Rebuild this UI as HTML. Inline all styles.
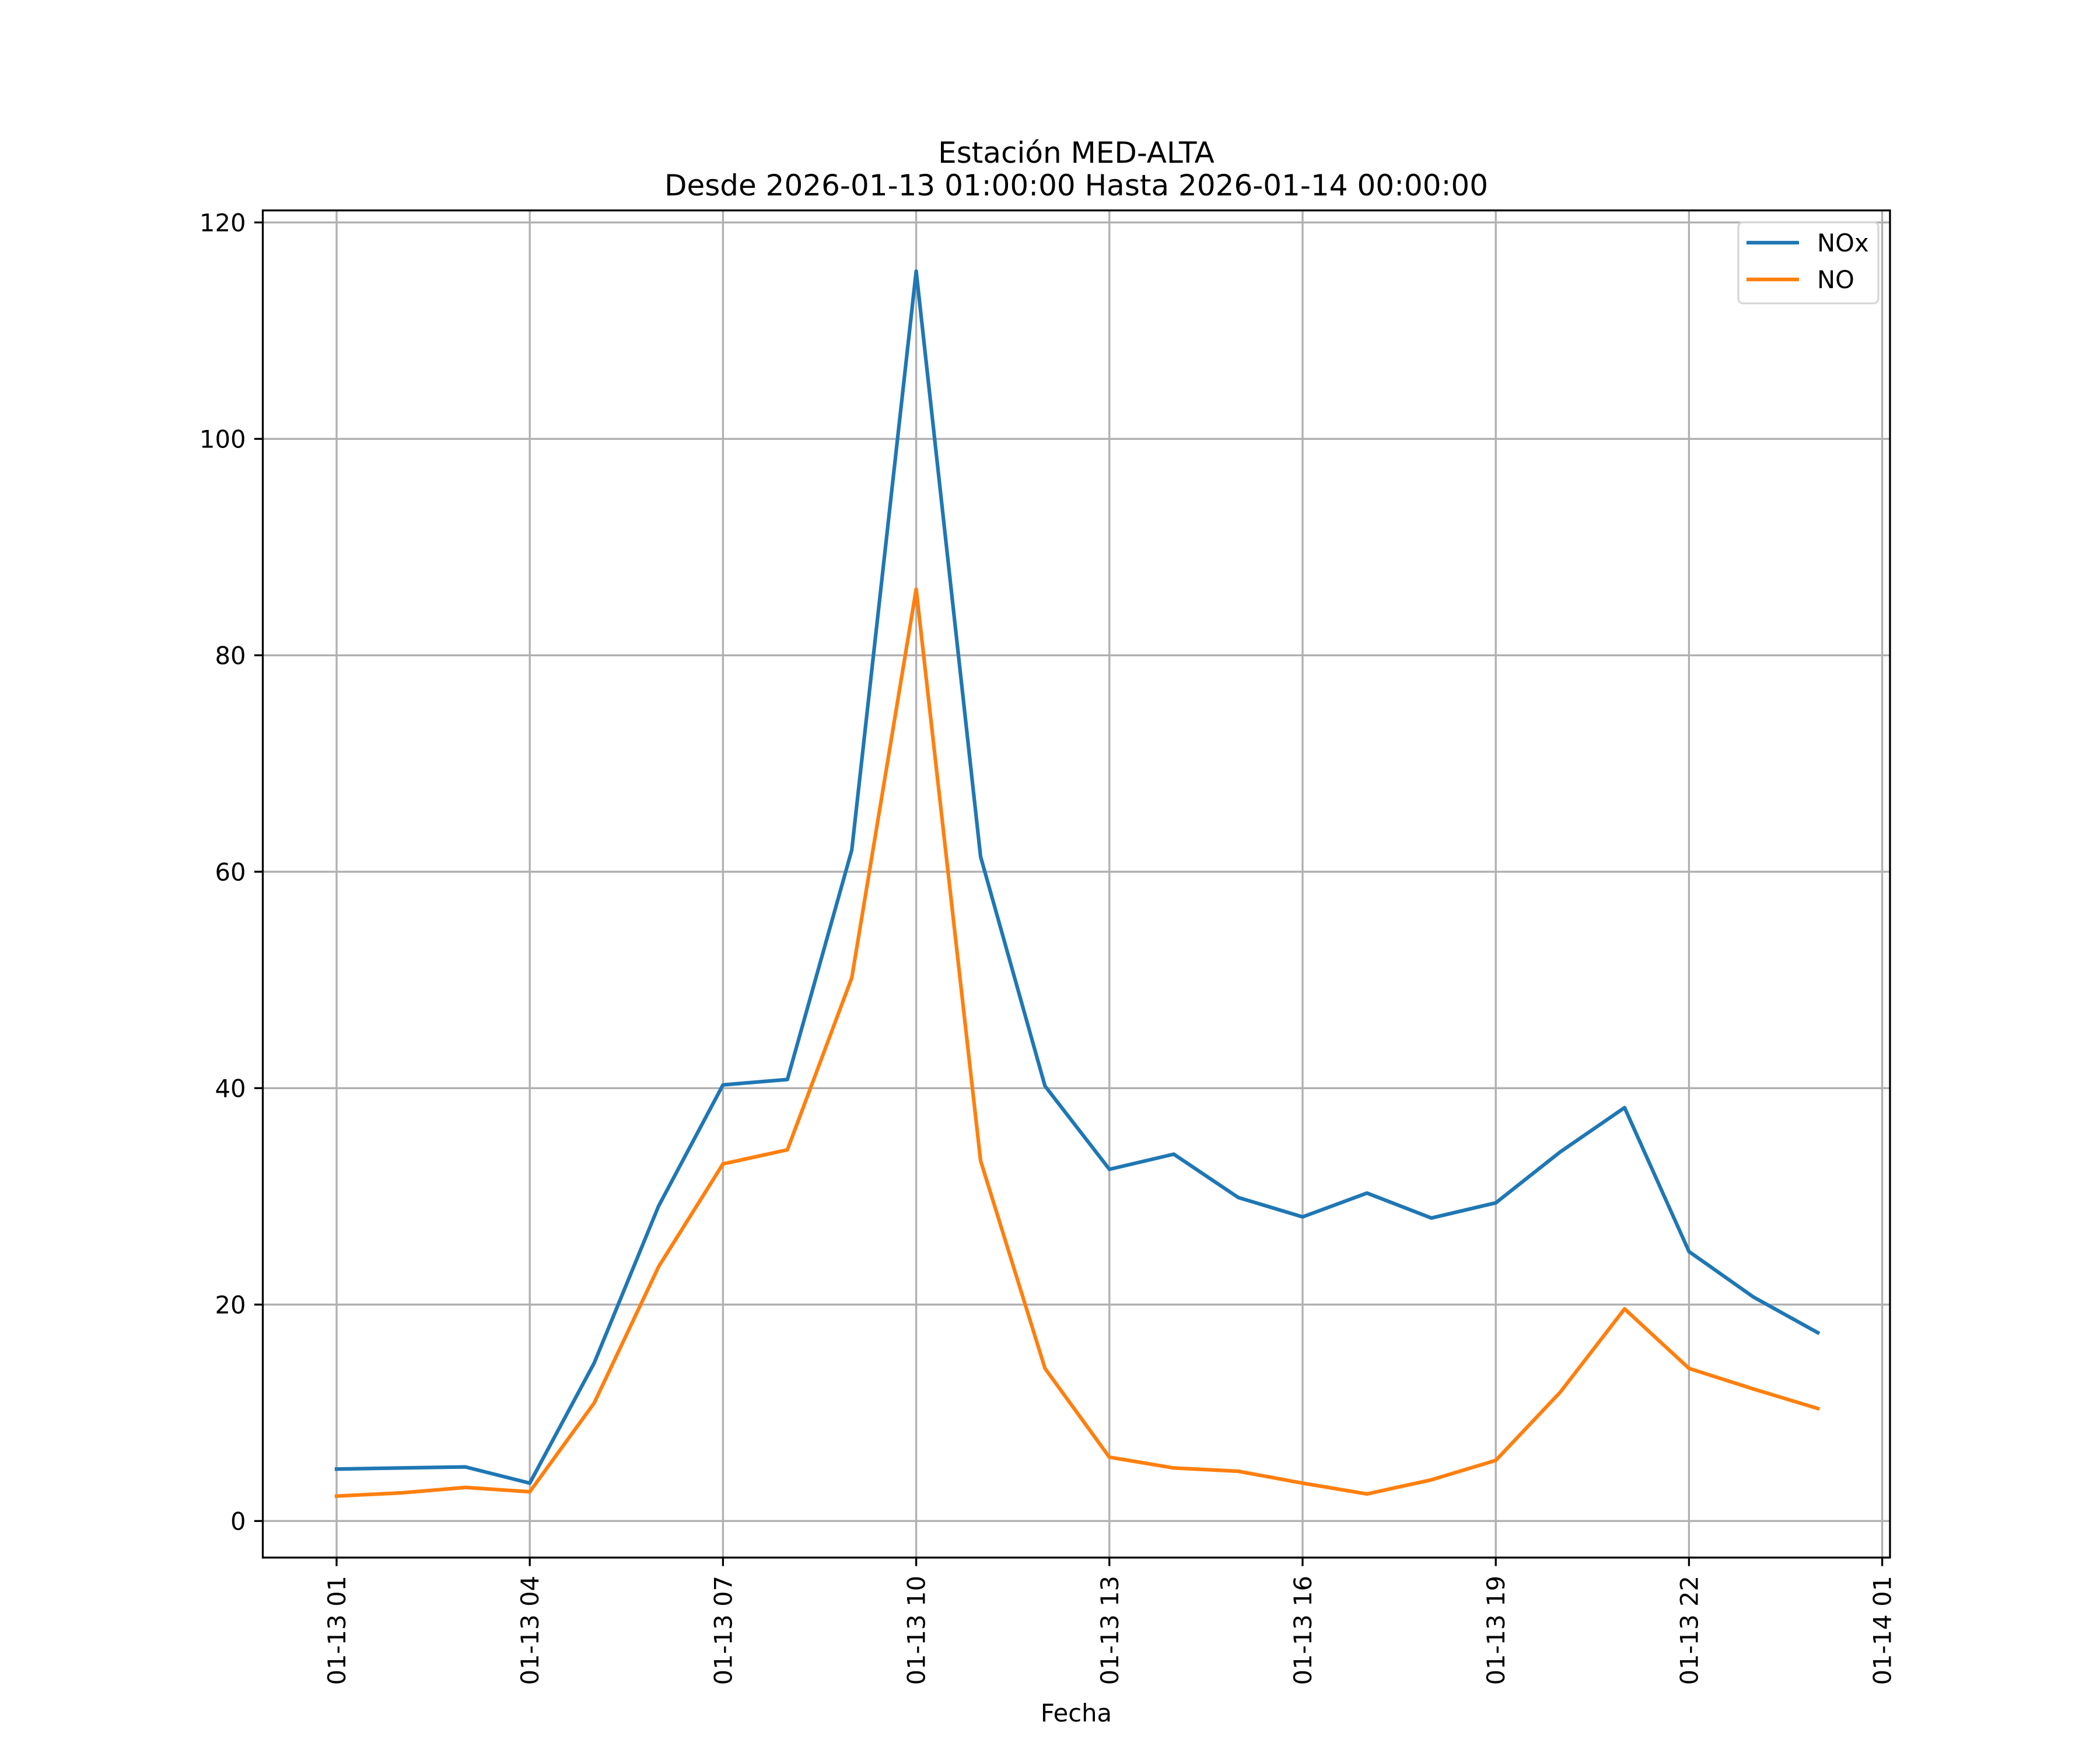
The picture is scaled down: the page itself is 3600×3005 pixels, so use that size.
<!DOCTYPE html>
<html><head><meta charset="utf-8"><style>
body{margin:0;background:#fff}
svg text{font-family:"DejaVu Sans","Liberation Sans",sans-serif;fill:#000}
</style></head><body>
<svg id="chart" width="3600" height="3000" viewBox="0 0 3600 3000" xmlns="http://www.w3.org/2000/svg">
<rect width="3600" height="3000" fill="#fff"/>
<text x="1845" y="279" font-size="50" text-anchor="middle">Estación MED-ALTA</text>
<text x="1845" y="335" font-size="50" text-anchor="middle">Desde 2026-01-13 01:00:00 Hasta 2026-01-14 00:00:00</text>
<g id="grid"></g>
<g id="series"></g>
<rect x="450.5" y="360.7" width="2789.5" height="2309.3" fill="none" stroke="#000" stroke-width="3.3"/>
<g id="axes"></g>
<text x="1845" y="2951" font-size="41.7" text-anchor="middle">Fecha</text>
<g>
<rect x="2980" y="381" width="240" height="139" rx="8" fill="#fff" fill-opacity="0.8" stroke="#d6d6d6" stroke-width="3.3"/>
<line x1="2994" y1="416" x2="3084" y2="416" stroke="#1f77b4" stroke-width="6.25"/>
<text x="3115" y="431" font-size="41.7">NOx</text>
<line x1="2994" y1="479" x2="3084" y2="479" stroke="#ff7f0e" stroke-width="6.25"/>
<text x="3115" y="494" font-size="41.7">NO</text>
</g>
</svg>
<script>
const hours = [1,2,3,4,5,6,7,8,9,10,11,12,13,14,15,16,17,18,19,20,21,22,23,24];
const noxValues = [4.8,4.9,5.0,3.5,14.6,29.1,40.3,40.8,62.0,115.5,61.4,40.2,32.5,33.9,29.9,28.1,30.3,28.0,29.4,34.1,38.2,24.9,20.7,17.4];
const noValues = [2.3,2.6,3.1,2.7,10.9,23.5,33.0,34.3,50.2,86.1,33.3,14.1,5.9,4.9,4.6,3.5,2.5,3.8,5.6,11.9,19.6,14.1,12.2,10.4];
const yTicks = [0,20,40,60,80,100,120];
const xTickHours = [1,4,7,10,13,16,19,22,25];
const xTickLabels = ["01-13 01","01-13 04","01-13 07","01-13 10","01-13 13","01-13 16","01-13 19","01-13 22","01-14 01"];

const NS="http://www.w3.org/2000/svg";
const L=450.5,R=3240,T=360.7,B=2670;
function xs(h){return 577+(h-1)*110.4;}
function ys(v){return 2607.3-v*18.55;}
function mk(tag,attrs,parent){const e=document.createElementNS(NS,tag);for(const k in attrs)e.setAttribute(k,attrs[k]);parent.appendChild(e);return e;}
const grid=document.getElementById('grid'),axes=document.getElementById('axes'),series=document.getElementById('series');
yTicks.forEach(v=>{
  const y=ys(v);
  const g=mk('line',{x1:L,x2:R,y1:y,y2:y,stroke:'#b0b0b0','stroke-width':3.3},grid);
  
  
  const t=mk('line',{x1:L-14.6,x2:L,y1:y,y2:y,stroke:'#000','stroke-width':3.3},axes);
  
  
  const tx=mk('text',{x:L-29,y:y+15,'font-size':41.7,'text-anchor':'end'},axes);
  tx.textContent=v;
  
  
});
xTickHours.forEach((h,i)=>{
  const x=xs(h);
  const g=mk('line',{x1:x,x2:x,y1:T,y2:B,stroke:'#b0b0b0','stroke-width':3.3},grid);
  
  
  const t=mk('line',{x1:x,x2:x,y1:B,y2:B+14.6,stroke:'#000','stroke-width':3.3},axes);
  
  
  const tx=mk('text',{x:0,y:0,'font-size':41.7,'text-anchor':'end',transform:`translate(${x+15},2701) rotate(-90)`},axes);
  tx.textContent=xTickLabels[i];
  
  
});
function line(vals,color,name){
  const pts=vals.map((v,i)=>xs(hours[i]).toFixed(1)+','+ys(v).toFixed(1)).join(' ');
  const p=mk('polyline',{points:pts,fill:'none',stroke:color,'stroke-width':6.25,'stroke-linejoin':'round','stroke-linecap':'square'},series);
  
  
}
line(noxValues,'#1f77b4','nox-line');
line(noValues,'#ff7f0e','no-line');
</script>
</body></html>
